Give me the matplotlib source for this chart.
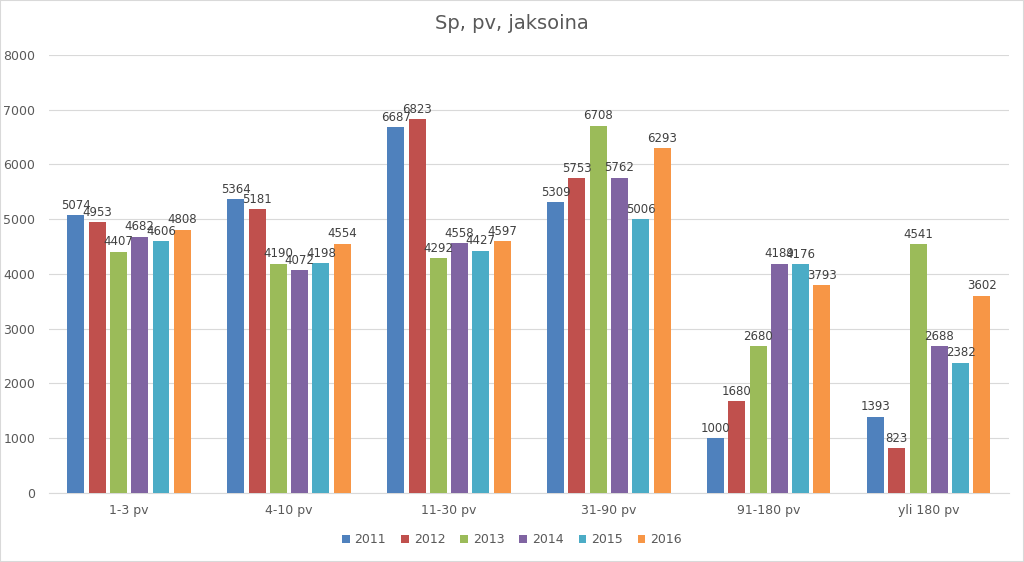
import numpy as np
import matplotlib.pyplot as plt

# Sp, pv, jaksoina
categories = ['1-3 pv', '4-10 pv', '11-30 pv', '31-90 pv', '91-180 pv', 'yli 180 pv']
years = ['2011', '2012', '2013', '2014', '2015', '2016']
v2011 = [5074, 5364, 6687, 5309, 1000, 1393]
v2012 = [4953, 5181, 6823, 5753, 1680, 823]
v2013 = [4407, 4190, 4292, 6708, 2680, 4541]
v2014 = [4682, 4072, 4558, 5762, 4189, 2688]
v2015 = [4606, 4198, 4427, 5006, 4176, 2382]
v2016 = [4808, 4554, 4597, 6293, 3793, 3602]
series = [v2011, v2012, v2013, v2014, v2015, v2016]
colors = ['#4F81BD', '#C0504D', '#9BBB59', '#8064A2', '#4BACC6', '#F79646']

fig = plt.figure(figsize=(10.24, 5.62), dpi=100)
ax = fig.add_axes([0.048, 0.1228, 0.937, 0.7794])

x = np.arange(len(categories))
slot = 0.133
width = 0.106
for i, (vals, yr, c) in enumerate(zip(series, years, colors)):
    pos = x + (i - 2.5) * slot
    ax.bar(pos, vals, width=width, color=c, label=yr, zorder=3)
    for p, v in zip(pos, vals):
        ax.text(p, v + 60, str(v), ha='center', va='bottom', fontsize=8.5,
                color='#404040', zorder=4)

ax.set_xlim(-0.5, len(categories) - 0.5)
ax.set_ylim(0, 8000)
ax.set_yticks(range(0, 8001, 1000))
ax.set_xticks(x)
ax.set_xticklabels(categories)
ax.grid(axis='y', color='#D9D9D9', linewidth=0.8, zorder=0)
for s in ['top', 'right', 'left']:
    ax.spines[s].set_visible(False)
ax.spines['bottom'].set_color('#D9D9D9')
ax.tick_params(axis='both', length=0, colors='#595959', labelsize=9)
ax.tick_params(axis='y', pad=10)
ax.tick_params(axis='x', pad=8)

fig.suptitle('Sp, pv, jaksoina', y=0.975, fontsize=14, color='#595959')
fig.legend(loc='lower center', bbox_to_anchor=(0.5, 0.008), ncol=6, frameon=False,
           fontsize=9, labelcolor='#595959', handlelength=0.6, handleheight=0.6,
           handletextpad=0.4, columnspacing=1.2)

fig.patches.append(plt.Rectangle((0, 0), 1, 1, transform=fig.transFigure,
                                 fill=False, edgecolor='#D9D9D9', linewidth=1.5))
fig.savefig('out.png', dpi=100)
